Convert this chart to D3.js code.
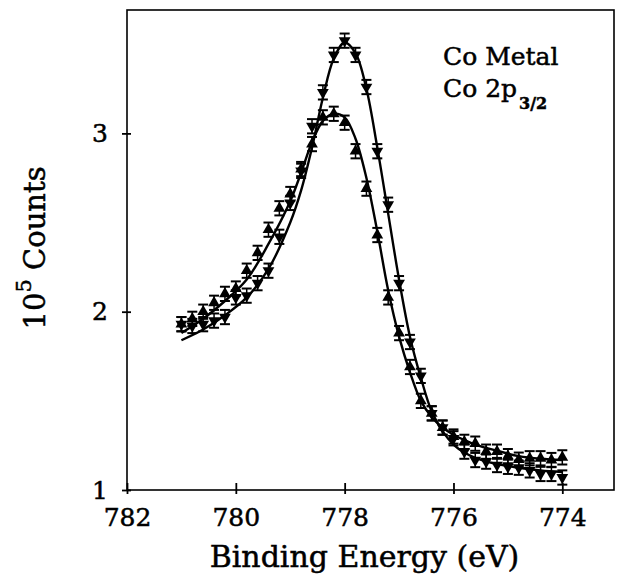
<!DOCTYPE html>
<html><head><meta charset="utf-8">
<script src="https://cdn.jsdelivr.net/npm/d3@7/dist/d3.min.js"></script>
<style>body{margin:0;background:#fff}svg{display:block}</style>
</head><body>
<svg id="c" width="617" height="576"></svg>
<script>
// ---- data ----
const energies = [781.0,780.8,780.6,780.4,780.2,780.0,779.8,779.6,779.4,779.2,779.0,778.8,778.6,778.4,778.2,778.0,777.8,777.6,777.4,777.2,777.0,776.8,776.6,776.4,776.2,776.0,775.8,775.6,775.4,775.2,775.0,774.8,774.6,774.4,774.2,774.0];
const upCounts = [1.93,1.96,2.00,2.05,2.10,2.13,2.23,2.33,2.46,2.58,2.66,2.80,2.94,3.09,3.11,3.06,2.90,2.69,2.43,2.08,1.88,1.69,1.50,1.43,1.35,1.30,1.27,1.26,1.215,1.215,1.19,1.17,1.178,1.178,1.168,1.183];
const downCounts = [1.93,1.92,1.93,1.95,1.97,2.08,2.09,2.16,2.23,2.42,2.61,2.79,3.04,3.23,3.44,3.52,3.44,3.26,2.90,2.60,2.16,1.83,1.64,1.43,1.35,1.29,1.215,1.168,1.159,1.14,1.13,1.125,1.11,1.09,1.09,1.07];
const errorBar = 0.04;
const fitEnergies = [781.0,780.6,780.2,779.8,779.4,779.0,778.8,778.6,778.4,778.2,778.0,777.8,777.6,777.4,777.2,777.0,776.8,776.6,776.4,776.2,776.0,775.8,775.6,775.2,774.8,774.4,774.0];
const upFit = [1.88,1.96,2.06,2.18,2.38,2.62,2.78,2.95,3.07,3.11,3.09,2.97,2.75,2.45,2.12,1.86,1.66,1.50,1.41,1.35,1.31,1.28,1.255,1.22,1.19,1.175,1.168];
const downFit = [1.84,1.90,1.98,2.08,2.24,2.50,2.68,2.92,3.20,3.42,3.51,3.45,3.25,2.92,2.55,2.18,1.86,1.63,1.44,1.33,1.255,1.21,1.18,1.145,1.125,1.11,1.10];
const xTicks = [782,780,778,776,774];
const yTicks = [1,2,3];
const xTitle = "Binding Energy (eV)";
const yTitleBase = "10", yTitleExp = "5", yTitleRest = "Counts";
const legend1 = "Co Metal", legend2 = "Co 2p", legend2Sub = "3/2";

// ---- drawing ----
const FONT = "'DejaVu Serif', serif";
const svg = d3.select("#c");
const L = 127, R = 614, T = 10, B = 490;
const x = d3.scaleLinear().domain([782, 773.05]).range([L, R]);
const y = d3.scaleLinear().domain([1, 3.692]).range([B, T]);
const bolden = sel => sel.attr("stroke", "#000").attr("stroke-width", 0.5).attr("fill", "#000");

// frame
svg.append("rect").attr("x", L).attr("y", T).attr("width", R - L).attr("height", B - T)
  .attr("fill", "none").attr("stroke", "#000").attr("stroke-width", 1.6);

// x axis
const gx = svg.append("g").attr("transform", `translate(0,${B})`)
  .call(d3.axisBottom(x).tickValues(xTicks).tickFormat(d3.format("d")).tickSize(4));
gx.select(".domain").remove();
gx.selectAll(".tick line").attr("y1", -7).attr("y2", 4).attr("stroke-width", 1.8);
gx.selectAll(".tick text").attr("font-family", FONT)
  .attr("font-size", 25).attr("y", 36).attr("dy", 0).call(bolden);

// y axis
const gy = svg.append("g").attr("transform", `translate(${L},0)`)
  .call(d3.axisLeft(y).tickValues(yTicks).tickFormat(d3.format("d")).tickSize(5).tickPadding(14));
gy.select(".domain").remove();
gy.selectAll(".tick line").attr("x1", -5).attr("x2", 4).attr("stroke-width", 1.8);
gy.selectAll(".tick text").attr("font-family", FONT)
  .attr("font-size", 25).call(bolden);

// axis titles
svg.append("text").attr("x", (L + R) / 2 - 6).attr("y", 567).attr("text-anchor", "middle")
  .attr("font-family", FONT).attr("font-size", 30).call(bolden).text(xTitle);
const yt = svg.append("text").attr("transform", `translate(45,${(T + B) / 2 - 2}) rotate(-90)`)
  .attr("text-anchor", "middle").attr("font-family", FONT).attr("font-size", 29).call(bolden);
yt.append("tspan").text(yTitleBase);
yt.append("tspan").attr("dy", -14).attr("font-size", 21).text(yTitleExp);
yt.append("tspan").attr("dy", 14).text(" " + yTitleRest);

// legend text
svg.append("text").attr("x", 443).attr("y", 65).attr("font-family", FONT)
  .attr("font-size", 25).call(bolden).text(legend1);
const lg2 = svg.append("text").attr("x", 443).attr("y", 97).attr("font-family", FONT)
  .attr("font-size", 25).call(bolden);
lg2.append("tspan").text(legend2);
lg2.append("tspan").attr("dx", 2).attr("dy", 12).attr("font-size", 16).attr("font-weight", "bold").text(legend2Sub);

// fit curves
const line = d3.line().x(d => x(d[0])).y(d => y(d[1])).curve(d3.curveCatmullRom.alpha(0.5));
[upFit, downFit].forEach(f => {
  svg.append("path").attr("d", line(fitEnergies.map((e, i) => [e, f[i]])))
    .attr("fill", "none").attr("stroke", "#000").attr("stroke-width", 2.4);
});

// error bars and markers
function series(vals, down) {
  const g = svg.append("g");
  const pts = energies.map((e, i) => ({e, v: vals[i]}));
  const eb = g.selectAll("g.eb").data(pts).join("g").attr("class", "eb");
  eb.append("line").attr("x1", d => x(d.e)).attr("x2", d => x(d.e))
    .attr("y1", d => y(d.v - errorBar)).attr("y2", d => y(d.v + errorBar))
    .attr("stroke", "#000").attr("stroke-width", 1.5);
  [-1, 1].forEach(s => {
    eb.append("line").attr("x1", d => x(d.e) - 5).attr("x2", d => x(d.e) + 5)
      .attr("y1", d => y(d.v + s * errorBar)).attr("y2", d => y(d.v + s * errorBar))
      .attr("stroke", "#000").attr("stroke-width", 2);
  });
  g.selectAll("path.m").data(pts).join("path").attr("class", "m")
    .attr("d", d3.symbol(d3.symbolTriangle, 60)())
    .attr("transform", d => `translate(${x(d.e)},${y(d.v)}) rotate(${down ? 180 : 0})`)
    .attr("fill", "#000");
}
series(upCounts, false);
series(downCounts, true);
</script>
</body></html>
